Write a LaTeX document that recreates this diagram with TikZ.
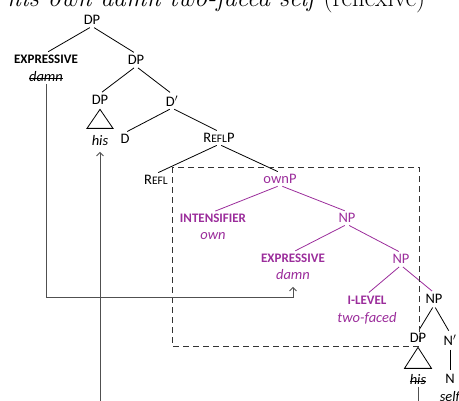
\documentclass[tikz,border=0pt]{standalone}
\usepackage{fontspec}
\setmainfont{Carlito}
\newfontfamily\titlefont{Latin Modern Roman}
\usetikzlibrary{arrows.meta,calc}
\definecolor{pur}{RGB}{155,45,155}
\definecolor{mv}{RGB}{80,80,80}
\newcommand\strike[1]{\setbox0\hbox{#1}\rlap{\copy0}\rule[0.24em]{\wd0}{0.6pt}}
\newcommand\smc[1]{{\fontsize{11.5}{12}\selectfont #1}}
\tikzset{
  lab/.style={font=\fontsize{14.5}{16}\selectfont, inner sep=1.5pt},
  feat/.style={font=\bfseries\fontsize{13}{15}\selectfont, inner sep=1.5pt},
  word/.style={font=\itshape\fontsize{14.5}{16}\selectfont, inner sep=1.5pt},
  br/.style={line width=0.8pt, black, shorten <=2.5pt, shorten >=2.5pt},
  pbr/.style={line width=0.8pt, pur, shorten <=2.5pt, shorten >=2.5pt},
  mvline/.style={line width=1pt, mv, -{Straight Barb[length=3.5pt,width=7pt]}},
  tri/.style={line width=0.8pt, black},
  dbox/.style={line width=0.8pt, black!80, dash pattern=on 6pt off 4pt},
}
\begin{document}
\begin{tikzpicture}[x=1pt,y=-1pt]
\useasboundingbox (0,0) rectangle (459,400);
% title (cut at the top)
\node[anchor=base west, inner sep=0] (title) at (8,6)
  {\resizebox{417pt}{!}{\titlefont\fontsize{22}{26}\selectfont\itshape his own damn two-faced self \upshape(reflexive)}};
% tree
\node[lab] (dp1) at (92,20) {DP};
\node[feat] (expr1) at (46,59) {EXPRESSIVE};
\node[word] (damn1) at (46,77) {\strike{damn}};
\node[lab] (dp2) at (136,60) {DP};
\node[lab] (dp3) at (100,100) {DP};
\node[word] (his1) at (100,141) {his};
\node[lab] (dbar) at (172,101) {D$'$};
\node[lab] (d) at (125,139) {D};
\node[lab] (reflp) at (219,138) {R\smc{EFL}P};
\node[lab] (refl) at (156,180) {R\smc{EFL}};
\node[lab, text=pur] (ownp) at (280,179) {ownP};
\node[feat, text=pur] (intens) at (213,218) {INTENSIFIER};
\node[word, text=pur] (own) at (213,236) {own};
\node[lab, text=pur] (np1) at (347,218) {NP};
\node[feat, text=pur] (expr2) at (293,258) {EXPRESSIVE};
\node[word, text=pur] (damn2) at (293,275) {damn};
\node[lab, text=pur] (np2) at (401,259) {NP};
\node[feat, text=pur] (ilevel) at (367,300) {I-LEVEL};
\node[word, text=pur] (twofaced) at (367,318) {two-faced};
\node[lab] (np3) at (434,299) {NP};
\node[lab] (dp4) at (418,338) {DP};
\node[word] (his2) at (418,380) {\strike{his}};
\node[lab] (nbar) at (450,340) {N$'$};
\node[lab] (n) at (450,379) {N};
\node[word] (self) at (450,397) {self};
% branches
\draw[br] (dp1.south) -- (expr1.north);
\draw[br] (dp1.south) -- (dp2.north);
\draw[br] (dp2.south) -- (dp3.north);
\draw[br] (dp2.south) -- (dbar.north);
\draw[br] (dbar.south) -- (d.north);
\draw[br] (dbar.south) -- (reflp.north);
\draw[br] (reflp.south) -- (refl.north);
\draw[br] (reflp.south) -- (ownp.north);
\draw[pbr] (ownp.south) -- (intens.north);
\draw[pbr] (ownp.south) -- (np1.north);
\draw[pbr] (np1.south) -- (expr2.north);
\draw[pbr] (np1.south) -- (np2.north);
\draw[pbr] (np2.south) -- (ilevel.north);
\draw[pbr] (np2.south) -- (np3.north);
\draw[br] (np3.south) -- (dp4.north);
\draw[br] (np3.south) -- (nbar.north);
\draw[br] (nbar.south) -- (n.north);
% triangles
\draw[tri] ($(dp3.south)+(0,3)$) -- ++(-13,19) -- ++(26,0) -- cycle;
\draw[tri] ($(dp4.south)+(0,3)$) -- ++(-13.5,21) -- ++(27,0) -- cycle;
% dashed box
\coordinate (b1) at (172,167);
\coordinate (b2) at (419,346);
\draw[dbox] (b1) rectangle (b2);
% movement
\coordinate (m1) at (0,297);
\coordinate (m2) at (0,440);
\draw[mvline, shorten >=5pt] (damn1.south) -- (damn1.south |- m1) -| (damn2.south);
\draw[mvline, shorten >=4pt] (his2.south) -- (his2.south |- m2) -| (his1.south);
\end{tikzpicture}
\end{document}
